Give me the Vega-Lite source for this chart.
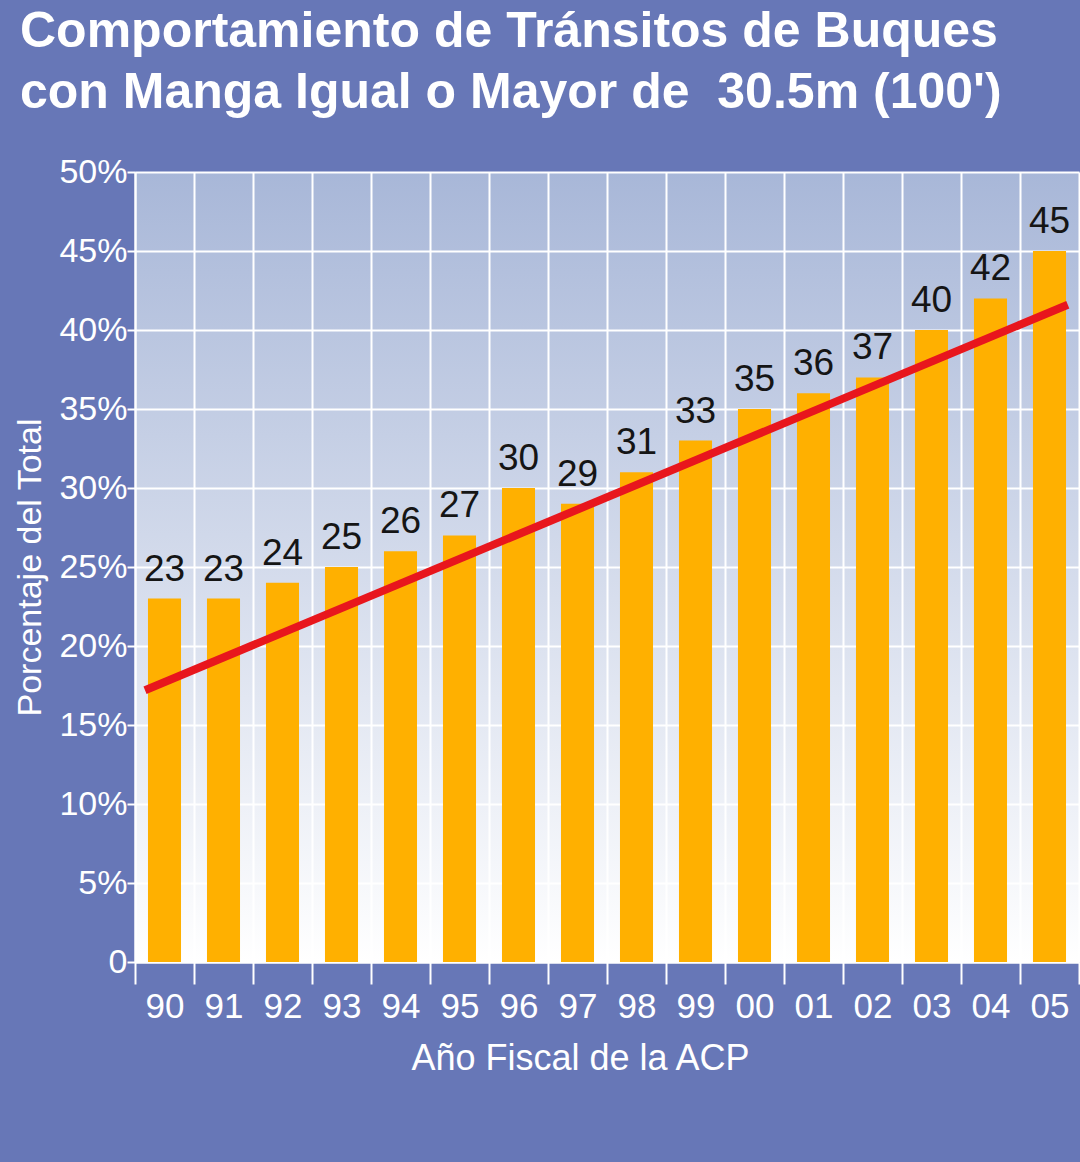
{
  "$schema": "https://vega.github.io/schema/vega-lite/v6.json",
  "width": 944,
  "height": 790,
  "autosize": {"type": "none"},
  "padding": {"left": 135, "top": 172, "right": 1, "bottom": 200},
  "background": "#6777b7",
  "title": {
    "text": ["Comportamiento de Tránsitos de Buques", "con Manga Igual o Mayor de\u00a0 30.5m (100')"],
    "anchor": "start",
    "frame": "group",
    "dx": -115,
    "offset": 37,
    "fontSize": 50,
    "fontWeight": "bold",
    "color": "white",
    "font": "Liberation Sans",
    "lineHeight": 61
  },
  "view": {
    "fill": {
      "gradient": "linear", "x1": 0, "y1": 0, "x2": 0, "y2": 1,
      "stops": [{"offset": 0, "color": "#a8b7d8"}, {"offset": 1, "color": "#ffffff"}]
    },
    "stroke": null
  },
  "datasets": {
    "bars": [
      {"year": "90", "pct": 23}, {"year": "91", "pct": 23}, {"year": "92", "pct": 24},
      {"year": "93", "pct": 25}, {"year": "94", "pct": 26}, {"year": "95", "pct": 27},
      {"year": "96", "pct": 30}, {"year": "97", "pct": 29}, {"year": "98", "pct": 31},
      {"year": "99", "pct": 33}, {"year": "00", "pct": 35}, {"year": "01", "pct": 36},
      {"year": "02", "pct": 37}, {"year": "03", "pct": 40}, {"year": "04", "pct": 42},
      {"year": "05", "pct": 45}
    ],
    "trend": [
      {"fy": 1989.67, "pct": 17.2},
      {"fy": 2005.31, "pct": 41.6}
    ]
  },
  "layer": [
    {
      "data": {"name": "bars"},
      "layer": [
        {
          "mark": {"type": "bar", "color": "#ffb000", "width": {"band": 0.56}},
          "encoding": {
            "x": {
              "field": "year", "type": "nominal", "sort": null,
              "scale": {"paddingInner": 0, "paddingOuter": 0},
              "axis": {
                "tickBand": "extent",
                "title": "Año Fiscal de la ACP",
                "labelAngle": 0,
                "labelColor": "white",
                "labelFontSize": 35,
                "labelFont": "Liberation Sans",
                "labelPadding": 5,
                "tickColor": "white",
                "tickSize": 22,
                "tickWidth": 2,
                "domainColor": "white",
                "domainWidth": 2,
                "grid": true,
                "gridColor": "white",
                "gridWidth": 2,
                "gridOpacity": 1,
                "titleColor": "white",
                "titleFont": "Liberation Sans",
                "titleFontSize": 36,
                "titleFontWeight": "normal",
                "titleX": 445,
                "titleY": 107,
                "titleAlign": "center",
                "titleBaseline": "alphabetic"
              }
            },
            "y": {
              "field": "pct", "type": "quantitative",
              "scale": {"domain": [0, 50], "nice": false},
              "axis": {
                "values": [0, 5, 10, 15, 20, 25, 30, 35, 40, 45, 50],
                "labelExpr": "datum.value == 0 ? '0' : datum.value + '%'",
                "title": "Porcentaje del Total",
                "labelColor": "white",
                "labelFontSize": 34,
                "labelFont": "Liberation Sans",
                "labelPadding": 0,
                "labelFlush": false,
                "labelOverlap": false,
                "tickColor": "white",
                "tickSize": 8,
                "tickWidth": 2,
                "domainColor": "white",
                "domainWidth": 2,
                "grid": true,
                "gridColor": "white",
                "gridWidth": 2,
                "gridOpacity": 1,
                "titleColor": "white",
                "titleFont": "Liberation Sans",
                "titleFontSize": 34,
                "titleFontWeight": "normal",
                "titleX": -105,
                "titleY": 395,
                "titleAngle": -90,
                "titleAlign": "center",
                "titleBaseline": "middle"
              }
            }
          }
        },
        {
          "mark": {"type": "text", "baseline": "bottom", "dy": -10, "fontSize": 37, "font": "Liberation Sans", "color": "#151515"},
          "encoding": {
            "x": {"field": "year", "type": "nominal", "sort": null},
            "y": {"field": "pct", "type": "quantitative"},
            "text": {"field": "pct", "type": "quantitative"}
          }
        }
      ]
    },
    {
      "data": {"name": "trend"},
      "mark": {"type": "line", "color": "#e8161d", "strokeWidth": 8, "strokeCap": "butt"},
      "encoding": {
        "x": {"field": "fy", "type": "quantitative", "scale": {"domain": [1989.5, 2005.5], "nice": false, "zero": false}, "axis": null},
        "y": {"field": "pct", "type": "quantitative"}
      }
    }
  ],
  "resolve": {"scale": {"x": "independent"}}
}
